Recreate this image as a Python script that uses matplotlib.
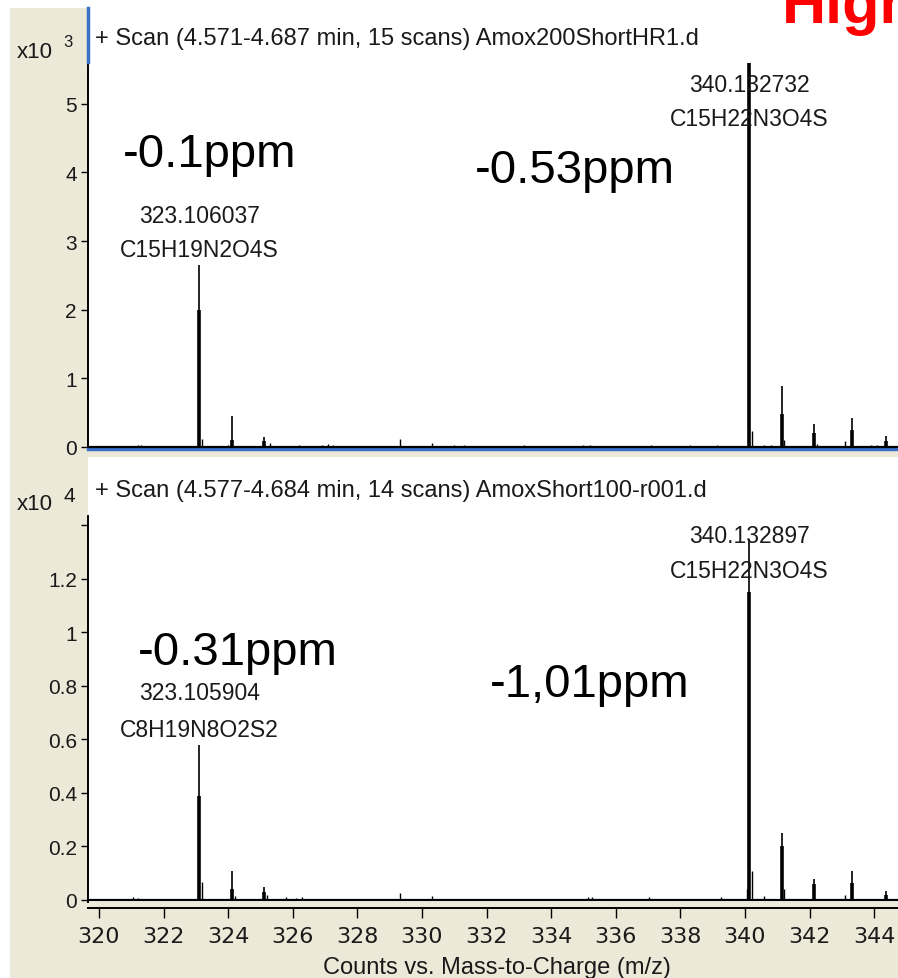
'''
Two MS scans of amoxicillin, MassHunter style
'''

import numpy                as     np
import matplotlib
matplotlib.use( 'Agg' )
import matplotlib.pyplot    as     plt
from   matplotlib.lines     import Line2D
from   matplotlib.patches   import Rectangle

SANS   = [ 'Liberation Sans', 'DejaVu Sans' ]
BEIGE  = '#ECE9D8'
BLUE   = '#3A70C8'
INK    = '#1a1a1a'

# upper scan, counts x10^3 (main peaks: thin tip + thick body)
top_mz   = [ 323.106, 324.12, 325.10, 340.133, 341.136, 342.13, 343.33, 344.36 ]
top_tip  = [ 2.65,    0.45,   0.15,   5.60,    0.89,    0.34,   0.42,   0.16   ]
top_body = [ 2.00,    0.10,   0.08,   5.60,    0.48,    0.20,   0.25,   0.08   ]
top_minor_mz  = [ 319.9, 320.1, 321.2, 321.3, 323.2, 323.98, 325.3, 326.2, 326.9, 327.1,
                  327.25, 328.1, 328.4, 328.8, 329.0, 329.32, 330.31, 331.0, 331.3, 331.9,
                  332.2, 333.15, 333.9, 335.0, 335.2, 336.2, 337.1, 337.9, 338.3, 339.15,
                  340.23, 340.6, 340.8, 341.22, 342.22, 343.1, 343.9, 344.1 ]
top_minor_int = [ 0.02, 0.02, 0.03, 0.03, 0.12, 0.03, 0.06, 0.03, 0.03, 0.04,
                  0.03, 0.02, 0.02, 0.02, 0.02, 0.12, 0.06, 0.03, 0.03, 0.02,
                  0.02, 0.03, 0.02, 0.03, 0.03, 0.02, 0.03, 0.02, 0.03, 0.03,
                  0.23, 0.03, 0.03, 0.10, 0.04, 0.08, 0.03, 0.03 ]

# lower scan, counts x10^4
bot_mz   = [ 323.106, 324.12, 325.10, 340.133, 341.136, 342.13, 343.33, 344.36 ]
bot_tip  = [ 0.58,    0.11,   0.05,   1.35,    0.25,    0.08,   0.11,   0.035  ]
bot_body = [ 0.39,    0.04,   0.03,   1.15,    0.20,    0.06,   0.065,  0.02   ]
bot_minor_mz  = [ 321.05, 321.2, 323.2, 324.2, 325.2, 325.8, 326.1, 326.3, 329.32, 330.31,
                  335.15, 335.27, 337.03, 339.26, 340.05, 340.22, 340.6, 341.22, 343.1 ]
bot_minor_int = [ 0.010, 0.008, 0.067, 0.015, 0.020, 0.010, 0.008, 0.010, 0.025, 0.015,
                  0.010, 0.010, 0.012, 0.012, 0.040, 0.110, 0.015, 0.040, 0.020 ]

x_ticks = list( range( 320, 345, 2 ) )
top_yticks = [ 0, 1, 2, 3, 4, 5 ]
bot_yticks = [ 0, 0.2, 0.4, 0.6, 0.8, 1.0, 1.2, 1.4 ]
bot_ylabels = [ '0', '0.2', '0.4', '0.6', '0.8', '1', '1.2', '' ]

W, H = 898, 979

def box( x0, y0, x1, y1 ):
    # pixel box (top-left origin) -> figure fraction rect
    return [ x0 / W, 1 - y1 / H, ( x1 - x0 ) / W, ( y1 - y0 ) / H ]

def fx( x ): return x / W
def fy( y ): return 1 - y / H

fig = plt.figure( figsize = ( W / 100, H / 100 ), dpi = 100, facecolor = 'white' )

# beige window chrome
for x0, y0, x1, y1 in [ ( 10, 9, 88, 979 ), ( 10, 903, 898, 979 ), ( 88, 451, 898, 458 ) ]:
    fig.add_artist( Rectangle( ( fx( x0 ), fy( y1 ) ), ( x1 - x0 ) / W, ( y1 - y0 ) / H,
                               transform = fig.transFigure, color = BEIGE, lw = 0, zorder = -5 ) )

def draw_scan( ax, mz, tip, body, minor_mz, minor_int ):
    ax.axhline( 0, color = 'black', lw = 1.6, zorder = 3 )
    ax.vlines( minor_mz, 0, minor_int, color = 'black', lw = 1.0 )
    ax.vlines( mz, 0, tip, color = 'black', lw = 1.2 )
    ax.vlines( mz, 0, body, color = 'black', lw = 2.6 )
    ax.set_xlim( 319.66, 344.74 )
    for s in [ 'top', 'right' ]:
        ax.spines[ s ].set_visible( False )
    ax.spines[ 'left' ].set_linewidth( 1.4 )
    ax.tick_params( axis = 'y', direction = 'out', length = 5, width = 1, pad = 3,
                    labelsize = 15, labelcolor = INK )

# upper pane
ax1 = fig.add_axes( box( 88, 63, 898, 450 ) )
draw_scan( ax1, top_mz, top_tip, top_body, top_minor_mz, top_minor_int )
ax1.set_ylim( -0.03, 5.61 )
ax1.set_yticks( top_yticks )
ax1.set_yticklabels( [ str( t ) for t in top_yticks ], family = SANS )
ax1.set_xticks( [] )
ax1.spines[ 'bottom' ].set_color( BLUE )
ax1.spines[ 'bottom' ].set_linewidth( 2.5 )
fig.add_artist( Line2D( [ fx( 87.5 ), fx( 87.5 ) ], [ fy( 9 ), fy( 63 ) ],
                        transform = fig.transFigure, color = BLUE, lw = 2.5 ) )

# lower pane
ax2 = fig.add_axes( box( 88, 517, 898, 903 ) )
draw_scan( ax2, bot_mz, bot_tip, bot_body, bot_minor_mz, bot_minor_int )
ax2.set_ylim( -0.0075, 1.435 )
ax2.set_yticks( bot_yticks )
ax2.set_yticklabels( bot_ylabels, family = SANS )
ax2.set_xticks( x_ticks )
ax2.set_xticklabels( [ str( t ) for t in x_ticks ], family = SANS )
ax2.spines[ 'bottom' ].set_position( ( 'outward', 4 ) )
ax2.spines[ 'bottom' ].set_linewidth( 1.4 )
ax2.tick_params( axis = 'x', direction = 'out', length = 7, width = 1, pad = 6,
                 labelsize = 16, labelcolor = INK )

# headers
fig.text( fx( 95 ), fy( 45 ), '+ Scan (4.571-4.687 min, 15 scans) Amox200ShortHR1.d',
          family = SANS, fontsize = 17, color = INK, va = 'baseline' )
fig.text( fx( 95 ), fy( 497 ), '+ Scan (4.577-4.684 min, 14 scans) AmoxShort100-r001.d',
          family = SANS, fontsize = 17, color = INK, va = 'baseline' )
fig.text( fx( 17 ), fy( 58 ), 'x10', family = SANS, fontsize = 16, color = INK, va = 'baseline' )
fig.text( fx( 63 ), fy( 47 ), '3', family = SANS, fontsize = 12, color = INK, va = 'baseline' )
fig.text( fx( 17 ), fy( 510 ), 'x10', family = SANS, fontsize = 16, color = INK, va = 'baseline' )
fig.text( fx( 63 ), fy( 502 ), '4', family = SANS, fontsize = 15, color = INK, va = 'baseline' )
fig.text( fx( 497 ), fy( 974 ), 'Counts vs. Mass-to-Charge (m/z)', family = SANS,
          fontsize = 17, color = INK, ha = 'center', va = 'baseline' )
fig.text( fx( 782 ), fy( 23 ), 'High', family = SANS, fontsize = 44, fontweight = 'bold',
          color = '#FF0000', va = 'baseline' )

# peak labels
peak_kw = dict( family = SANS, fontsize = 16.5, color = INK, ha = 'center', va = 'baseline' )
ax1.text( top_mz[ 0 ], 3.28, '323.106037', **peak_kw )
ax1.text( top_mz[ 0 ], 2.78, 'C15H19N2O4S', **peak_kw )
ax1.text( top_mz[ 3 ], 5.19, '340.132732', **peak_kw )
ax1.text( top_mz[ 3 ], 4.69, 'C15H22N3O4S', **peak_kw )
ax2.text( bot_mz[ 0 ], 0.751, '323.105904', **peak_kw )
ax2.text( bot_mz[ 0 ], 0.613, 'C8H19N8O2S2', **peak_kw )
ax2.text( bot_mz[ 3 ], 1.338, '340.132897', **peak_kw )
ax2.text( bot_mz[ 3 ], 1.207, 'C15H22N3O4S', **peak_kw )

# mass error notes
ppm_kw = dict( family = SANS, fontsize = 34, color = 'black', va = 'baseline' )
ax1.text( 320.74, 4.10, '-0.1ppm', **ppm_kw )
ax1.text( 331.64, 3.86, '-0.53ppm', **ppm_kw )
ax2.text( 321.21, 0.882, '-0.31ppm', **ppm_kw )
ax2.text( 332.10, 0.763, '-1,01ppm', **ppm_kw )

fig.savefig( 'out.png', dpi = 100 )
